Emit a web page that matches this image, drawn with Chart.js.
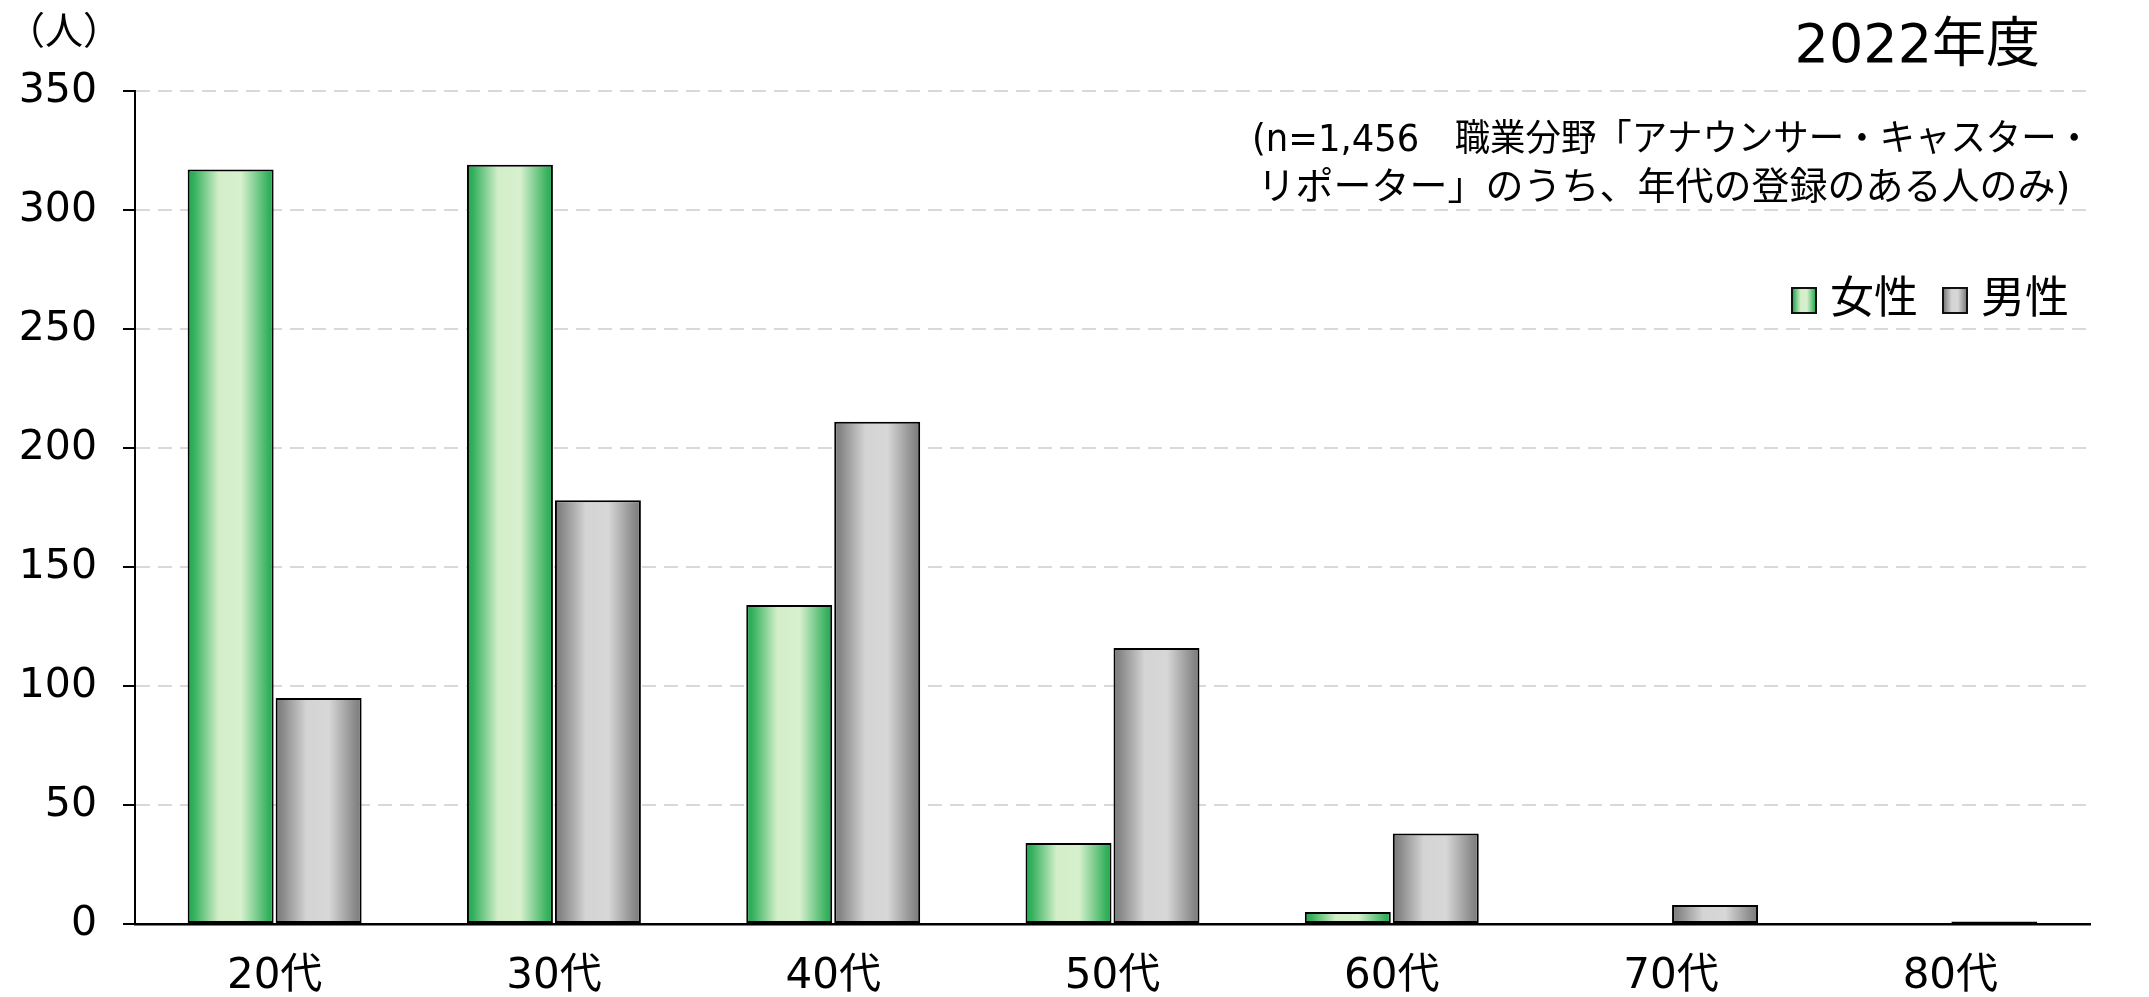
<!DOCTYPE html>
<html lang="ja">
<head>
<meta charset="UTF-8">
<title>年代別 2022年度</title>
<script src="https://cdn.jsdelivr.net/npm/chart.js@4.4.0/dist/chart.umd.min.js"></script>
<style>
  html, body { margin: 0; padding: 0; background: #fff; }
  .chart-wrap { position: relative; width: 2149px; height: 997px; }
</style>
</head>
<body>
<div class="chart-wrap"><canvas id="ageChart"></canvas></div>
<script>
const categories = ['20代', '30代', '40代', '50代', '60代', '70代', '80代'];
const female = [317, 319, 134, 34, 5, 0, 0];
const male = [95, 178, 211, 116, 38, 8, 1];
const yTicks = [0, 50, 100, 150, 200, 250, 300, 350];
const seriesNames = ['女性', '男性'];
const titleText = '2022年度';
const noteLines = ['(n=1,456　職業分野「アナウンサー・キャスター・', 'リポーター」のうち、年代の登録のある人のみ)'];
const unitText = '（人）';

const FONT = '"DejaVu Sans", "Noto Sans CJK JP", sans-serif';
const JP_FONT = '"Noto Sans CJK JP", sans-serif';
const CAT_PCT = 0.63;
const BAR_PCT = 0.977;

const greenStops = [[0, '#1ea94f'], [0.07, '#33b05c'], [0.36, '#d3eec9'], [0.62, '#d7f0ce'], [0.93, '#3ab360'], [1, '#1ea94f']];
const grayStops = [[0, '#7b7b7b'], [0.07, '#868686'], [0.36, '#d4d4d4'], [0.62, '#d7d7d7'], [0.93, '#888888'], [1, '#7b7b7b']];

function hGradient(c2d, x0, x1, stops) {
    const g = c2d.createLinearGradient(x0, 0, x1, 0);
    stops.forEach(s => g.addColorStop(s[0], s[1]));
    return g;
}

// gradient across each bar, following the library's own bar placement
function barFill(stops, fallback) {
    return function(c) {
        const chart = c.chart;
        const xs = chart.scales.x;
        if (c.type !== 'data' || !chart.chartArea || !xs) return fallback;
        const catW = xs.width / categories.length;
        const chunk = catW * CAT_PCT / 2;
        const center = xs.getPixelForValue(c.dataIndex) - catW * CAT_PCT / 2 + chunk * c.datasetIndex + chunk / 2;
        const half = chunk * BAR_PCT / 2;
        return hGradient(chart.ctx, center - half, center + half, stops);
    };
}

// title, note, unit and legend
const annotate = {
    id: 'annotate',
    afterDraw(chart) {
        const c = chart.ctx;
        const area = chart.chartArea;
        c.save();
        c.fillStyle = '#000';
        c.textBaseline = 'middle';

        c.textAlign = 'left';
        c.font = '38px ' + JP_FONT;
        c.fillText(unitText, 7, 30);

        c.textAlign = 'right';
        c.font = '54px ' + FONT;
        c.fillText(titleText, area.right - 50, 48);

        c.textAlign = 'center';
        c.font = '37px ' + FONT;
        c.fillText(noteLines[0], area.right - 418, 141, 840);
        c.font = '38px ' + FONT;
        c.fillText(noteLines[1], area.right - 426, 189);

        // legend
        const boxes = [
            { x: area.right - 298, stops: greenStops, text: seriesNames[0] },
            { x: area.right - 147, stops: grayStops, text: seriesNames[1] }
        ];
        c.textAlign = 'left';
        c.font = '44px ' + JP_FONT;
        boxes.forEach(b => {
            c.fillStyle = hGradient(c, b.x, b.x + 24, b.stops);
            c.fillRect(b.x, 288, 24, 25);
            c.strokeStyle = '#111';
            c.lineWidth = 2;
            c.strokeRect(b.x, 288, 24, 25);
            c.fillStyle = '#000';
            c.fillText(b.text, b.x + 38, 296);
        });
        c.restore();
    }
};

document.addEventListener('DOMContentLoaded', function() {
    const ctx = document.getElementById('ageChart').getContext('2d');
    const chart = new Chart(ctx, {
        type: 'bar',
        data: {
            labels: categories,
            datasets: [{
                label: seriesNames[0],
                data: female,
                backgroundColor: barFill(greenStops, '#9fd89a'),
                borderColor: '#000',
                borderWidth: 2,
                borderSkipped: false,
                categoryPercentage: CAT_PCT,
                barPercentage: BAR_PCT
            }, {
                label: seriesNames[1],
                data: male,
                backgroundColor: barFill(grayStops, '#b0b0b0'),
                borderColor: '#000',
                borderWidth: 2,
                borderSkipped: false,
                categoryPercentage: CAT_PCT,
                barPercentage: BAR_PCT
            }]
        },
        options: {
            responsive: true,
            maintainAspectRatio: false,
            animation: false,
            layout: {
                padding: { left: 0, right: 59, top: 91, bottom: 0 }
            },
            plugins: {
                legend: { display: false },
                tooltip: { enabled: false }
            },
            scales: {
                x: {
                    afterFit: s => { s.height = 73; },
                    grid: { display: false, drawTicks: false },
                    border: { display: true, color: '#000', width: 2.5 },
                    ticks: {
                        color: '#000',
                        padding: 28,
                        font: { family: FONT, size: 42 }
                    }
                },
                y: {
                    min: yTicks[0],
                    max: yTicks[yTicks.length - 1],
                    afterFit: s => { s.width = 135; },
                    afterBuildTicks: s => { s.ticks = yTicks.map(v => ({ value: v })); },
                    grid: {
                        color: c => (c.tick && c.tick.value === 0) ? 'rgba(0,0,0,0)' : '#d9d9d9',
                        lineWidth: 2,
                        tickLength: 12,
                        tickColor: '#000',
                        tickWidth: 2
                    },
                    border: { display: true, color: '#000', width: 2, dash: [14, 8] },
                    ticks: {
                        color: '#000',
                        padding: 26,
                        font: { family: FONT, size: 41 }
                    }
                }
            }
        },
        plugins: [annotate]
    });
});
</script>
</body>
</html>
